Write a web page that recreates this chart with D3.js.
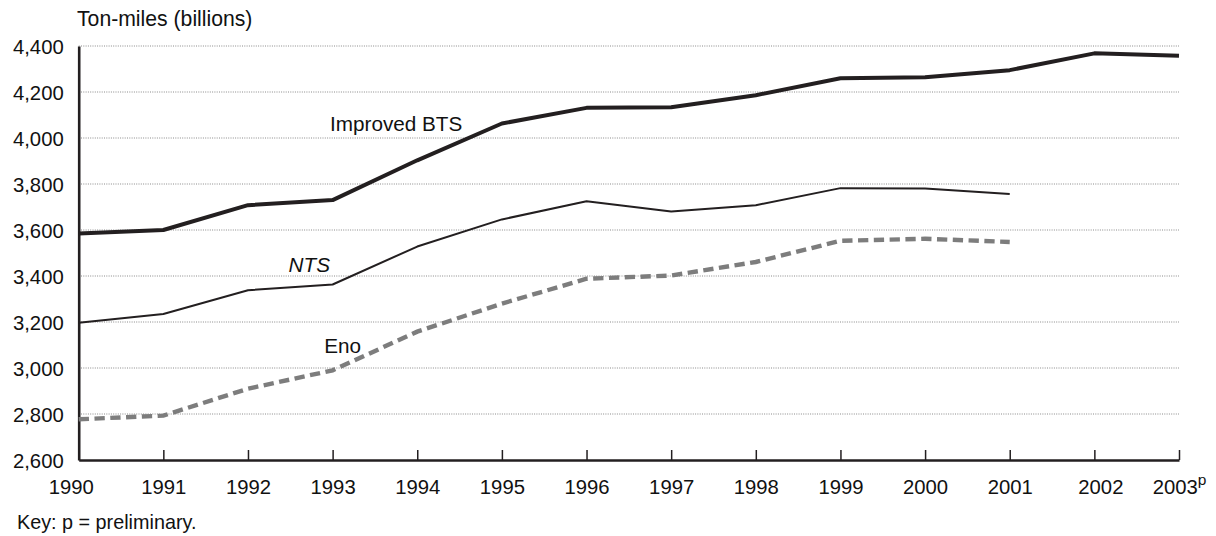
<!DOCTYPE html>
<html>
<head>
<meta charset="utf-8">
<script src="https://cdn.jsdelivr.net/npm/d3@7"></script>
<style>
  html, body { margin: 0; padding: 0; background: #fff; }
  svg { display: block; font-family: "Liberation Sans", Arial, Helvetica, sans-serif; }
</style>
</head>
<body>
<svg id="chart" width="1216" height="536"></svg>
<script>
// ---- data ----
const years = [1990, 1991, 1992, 1993, 1994, 1995, 1996, 1997, 1998, 1999, 2000, 2001, 2002, 2003];
const yearLabels = ["1990", "1991", "1992", "1993", "1994", "1995", "1996", "1997", "1998", "1999", "2000", "2001", "2002", "2003"];
const improvedBTS = [3585, 3600, 3708, 3730, 3903, 4063, 4131, 4134, 4186, 4260, 4264, 4295, 4368, 4358];
const nts = [3197, 3235, 3338, 3363, 3528, 3646, 3725, 3680, 3708, 3782, 3780, 3757];
const eno = [2777, 2793, 2910, 2990, 3158, 3280, 3388, 3402, 3461, 3553, 3562, 3548];
const yTicks = [2600, 2800, 3000, 3200, 3400, 3600, 3800, 4000, 4200, 4400];
const yTitle = "Ton-miles (billions)";
const keyNote = "Key: p = preliminary.";

// ---- layout ----
const svg = d3.select("#chart");
const x = d3.scaleLinear().domain([1990, 2003]).range([78.7, 1179]);
const y = d3.scaleLinear().domain([2600, 4400]).range([460, 46]);
const ink = "#231f20";
const fmt = d3.format(",");

// gridlines
svg.append("g")
  .selectAll("line")
  .data(yTicks.filter(d => d > 2600))
  .join("line")
  .attr("x1", x(1990)).attr("x2", x(2003))
  .attr("y1", d => y(d)).attr("y2", d => y(d))
  .attr("stroke", "#8a8a8a")
  .attr("stroke-width", 1)
  .attr("stroke-dasharray", "1,1.3");

// y axis
const yAxis = svg.append("g")
  .attr("transform", `translate(${x(1990)},0)`)
  .call(d3.axisLeft(y).tickValues(yTicks).tickFormat(fmt).tickSize(0).tickPadding(15));
yAxis.select(".domain").attr("stroke", ink).attr("stroke-width", 2.6);
yAxis.selectAll("text")
  .attr("font-size", 20.3).attr("fill", "#111")
  .attr("font-family", "'Liberation Sans', Arial, sans-serif")
  .attr("dy", "0.36em");

// x axis (ticks pointing up into the plot)
const xAxis = svg.append("g")
  .attr("transform", `translate(0,${y(2600)})`)
  .call(d3.axisBottom(x).tickValues(years).tickFormat((d, i) => yearLabels[i]).tickSizeInner(-10).tickSizeOuter(0).tickPadding(20));
xAxis.select(".domain").attr("stroke", ink).attr("stroke-width", 2.6);
xAxis.selectAll(".tick line").attr("stroke", ink).attr("stroke-width", 1.5);
xAxis.selectAll("text")
  .attr("font-size", 20.3).attr("fill", "#111")
  .attr("font-family", "'Liberation Sans', Arial, sans-serif");
// nudge a few labels to match the source layout
const nudge = {1990: -8, 2002: 6};
xAxis.selectAll(".tick").each(function(d) {
  if (nudge[d]) d3.select(this).select("text").attr("x", nudge[d]);
});
// superscript p on the last year
xAxis.selectAll(".tick").filter(d => d === 2003).select("text")
  .append("tspan")
  .attr("font-size", 15.5)
  .attr("dy", "-0.6em")
  .text("p");

// lines
const line = d3.line().x((d, i) => x(years[i])).y(d => y(d));

svg.append("path").datum(eno)
  .attr("d", line)
  .attr("fill", "none")
  .attr("stroke", "#7d7d7d")
  .attr("stroke-width", 4.4)
  .attr("stroke-dasharray", "10.3,5.5");

svg.append("path").datum(nts)
  .attr("d", line)
  .attr("fill", "none")
  .attr("stroke", ink)
  .attr("stroke-width", 2)
  .attr("stroke-linejoin", "round");

svg.append("path").datum(improvedBTS)
  .attr("d", line)
  .attr("fill", "none")
  .attr("stroke", ink)
  .attr("stroke-width", 4)
  .attr("stroke-linejoin", "round");

// series labels
const txt = (s, xv, yv, italic) => svg.append("text")
  .attr("x", x(xv)).attr("y", y(yv))
  .attr("font-size", 20.7).attr("fill", "#111")
  .attr("font-style", italic ? "italic" : "normal")
  .text(s);
txt("Improved BTS", 1992.97, 4030, false);
txt("NTS", 1992.48, 3417, true);
txt("Eno", 1992.9, 3065, false);

// title and key
svg.append("text").attr("x", 77).attr("y", 26)
  .attr("font-size", 21.2).attr("fill", "#111").text(yTitle);
svg.append("text").attr("x", 17).attr("y", 529)
  .attr("font-size", 19.8).attr("fill", "#111").text(keyNote);
</script>
</body>
</html>
